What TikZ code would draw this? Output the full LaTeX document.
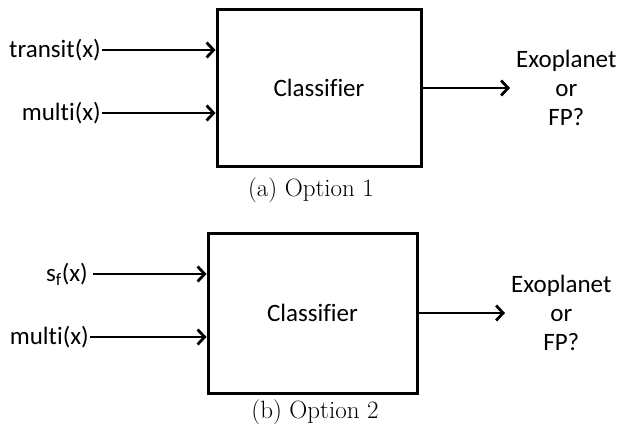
\documentclass[tikz,border=0pt]{standalone}
\usepackage{fontspec}
\setmainfont[Ligatures=NoCommon]{Carlito}
\usetikzlibrary{arrows.meta}
\newfontfamily\capfont{Latin Modern Roman}
\begin{document}
\begin{tikzpicture}[x=1pt,y=-1pt,
  box/.style={draw, line width=3pt, minimum width=#1},
  lbl/.style={font=\fontsize{25}{29}\selectfont, inner sep=1pt},
  outlbl/.style={font=\fontsize{25}{29}\selectfont, align=center, inner sep=6pt},
  captxt/.style={font=\capfont\fontsize{25}{28}\selectfont, inner sep=0pt},
  arr/.style={line width=2.8pt, -{Straight Barb[length=7pt,width=15pt,line width=2.8pt]}}]
\useasboundingbox (0,0) rectangle (621,428);
% (a)
\node[box=204pt, minimum height=156pt] (b1) at (319,88) {};
\node[lbl] (c1) at (b1.center) {Classifier};
\node[lbl, anchor=east] (t1) at (102,50) {transit(x)};
\node[lbl, anchor=east] (m1) at (102,113) {multi(x)};
\node[outlbl, anchor=west] (o1) at (510,88) {Exoplanet\\or\\FP?};
\draw[arr] (t1.east) -- (t1.east -| b1.west);
\draw[arr] (m1.east) -- (m1.east -| b1.west);
\draw[arr] (b1.east) -- (o1.west);
\node[captxt] (a1) at (311,190) {(a) Option 1};
% (b)
\node[box=209pt, minimum height=160pt] (b2) at (312.5,313) {};
\node[lbl] (c2) at (b2.center) {Classifier};
\node[lbl, anchor=east, inner sep=5pt] (s2) at (93,274) {s\textsubscript{f}(x)};
\node[lbl, anchor=east] (m2) at (90,337) {multi(x)};
\node[outlbl, anchor=west] (o2) at (505,313) {Exoplanet\\or\\FP?};
\draw[arr] (s2.east) -- (s2.east -| b2.west);
\draw[arr] (m2.east) -- (m2.east -| b2.west);
\draw[arr] (b2.east) -- (o2.west);
\node[captxt] (a2) at (315,412) {(b) Option 2};
\end{tikzpicture}
\end{document}
